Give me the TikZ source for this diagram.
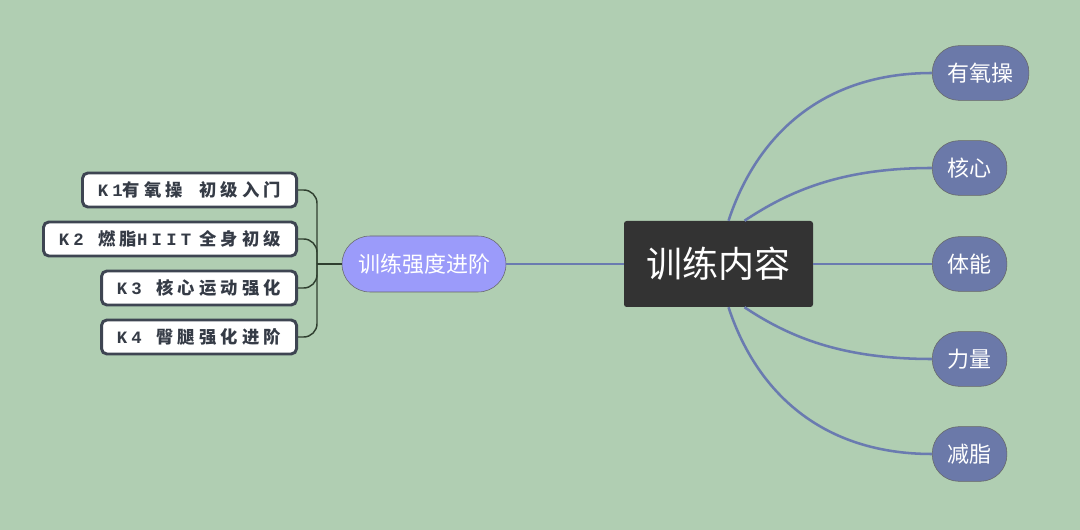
\documentclass[tikz,border=0pt]{standalone}
\usepackage{fontspec}
\usepackage{tikz}
\usetikzlibrary{calc}
\newfontfamily\cjk{Noto Sans CJK SC}
\newfontfamily\cjkk[LetterSpace=24]{Noto Sans CJK SC}
\newfontfamily\mono[LetterSpace=24]{Liberation Mono}
\definecolor{bg}{HTML}{B0CEB2}
\definecolor{rootfill}{HTML}{333333}
\definecolor{topicfill}{HTML}{6B79A9}
\definecolor{subfill}{HTML}{9B9BFA}
\definecolor{linkblue}{HTML}{6A7BB0}
\definecolor{boxline}{HTML}{3E4552}
\definecolor{bracket}{HTML}{2F3F2F}

\begin{document}
\begin{tikzpicture}[x=0.75pt,y=-0.75pt]
    \tikzstyle{root}=[rectangle,fill=rootfill,rounded corners=2pt,text=white,minimum width=141.75pt,minimum height=64.5pt,inner sep=0pt,font=\cjk\fontsize{27}{30}\selectfont]
    \tikzstyle{topic}=[rectangle,draw=black!60,fill=topicfill,rounded corners=20pt,text=white,minimum height=41pt,inner xsep=11.5pt,inner ysep=0pt,font=\cjk\fontsize{16.5}{19}\selectfont]
    \tikzstyle{sub}=[topic,fill=subfill,minimum height=42pt,rounded corners=21pt,inner xsep=12pt]
    \tikzstyle{kbox}=[rectangle,draw=boxline,line width=2.2pt,fill=white,rounded corners=4pt,text=boxline!85!black,minimum height=25.5pt,inner xsep=11.5pt,inner ysep=0pt,font=\cjkk\bfseries\fontsize{13}{15}\selectfont]
    \tikzstyle{link}=[draw=linkblue,line width=1.9pt]
    \tikzstyle{brace}=[draw=bracket,line width=1.1pt,rounded corners=10pt]

    \def\R{932}
    \def\K{298}

    \fill[bg] (0,0) rectangle (1080,530);

    \node[root] (c) at (718.5,264) {训练内容};

    \node[topic,anchor=west] (r1) at (\R, 73)  {有氧操};
    \node[topic,anchor=west] (r2) at (\R,168)  {核心};
    \node[topic,anchor=west] (r3) at (\R,264)  {体能};
    \node[topic,anchor=west] (r4) at (\R,359)  {力量};
    \node[topic,anchor=west] (r5) at (\R,454)  {减脂};

    \node[sub] (s) at (424,264) {训练强度进阶};

    \node[kbox,anchor=east] (k1) at (\K,190) {{\mono K1}有氧操\ \ 初级入门};
    \node[kbox,anchor=east] (k2) at (\K,239) {{\mono K2\ }燃脂{\mono HIIT}\ 全身初级};
    \node[kbox,anchor=east] (k3) at (\K,288) {{\mono K3\ }核心运动强化};
    \node[kbox,anchor=east] (k4) at (\K,337) {{\mono K4\ }臀腿强化进阶};

    \coordinate (jn) at (317,264);

    \path[link] ($(c.north)+(10,0)$) .. controls +(28,-85) and +(-110,0) .. (r1.west);
    \path[link] ($(c.north)+(26,0)$) .. controls +(45,-30) and +(-90,0) .. (r2.west);
    \path[link] (c.east) -- (r3.west);
    \path[link] ($(c.south)+(26,0)$) .. controls +(45,30) and +(-90,0) .. (r4.west);
    \path[link] ($(c.south)+(10,0)$) .. controls +(28,85) and +(-110,0) .. (r5.west);
    \path[link] (c.west) -- (s.east);

    \path[brace] (s.west) -- (jn);
    \path[brace] (jn) |- (k1.east);
    \path[brace] (jn) |- (k2.east);
    \path[brace] (jn) |- (k3.east);
    \path[brace] (jn) |- (k4.east);
\end{tikzpicture}
\end{document}
